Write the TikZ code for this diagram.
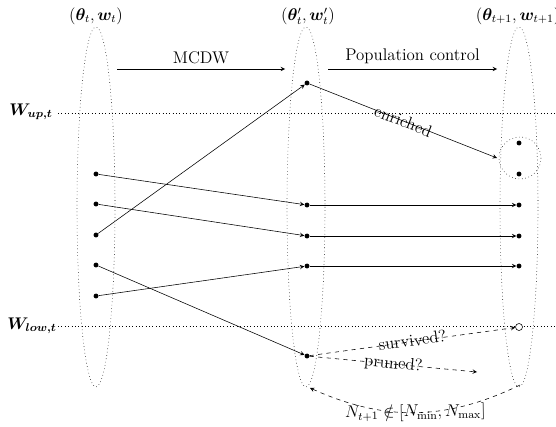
\documentclass[tikz,border=0pt]{standalone}
\usepackage{amsmath}
\usepackage{amssymb}
\usepackage{bm}
\begin{document}
\begin{tikzpicture}[x=0.025cm,y=-0.025cm,
	dot/.style={circle,fill=black,inner sep=0pt,minimum size=3.5pt},
	hollow/.style={circle,draw,fill=white,inner sep=0pt,minimum size=5pt},
	lbl/.style={font=\large},
	link/.style={->,>=stealth},
	dlink/.style={->,>=stealth,dashed}]
\useasboundingbox (0,0) rectangle (556,426);
%populations
\draw[dotted] (96,207) ellipse [x radius=19, y radius=180];
\draw[dotted] (306,207) ellipse [x radius=19, y radius=180];
\draw[dotted] (519,207) ellipse [x radius=19, y radius=180];
\node[lbl] (popl) at (96,16) {$(\bm{\theta}_t,\bm{w}_t)$};
\node[lbl] (popm) at (308,16) {$(\bm{\theta}'_t,\bm{w}'_t)$};
\node[lbl,anchor=west] (popr) at (471,16) {$(\bm{\theta}_{t+1},\bm{w}_{t+1})$};
%thresholds
\draw[dotted] (58,113) -- (556,113);
\draw[dotted] (58,326) -- (556,326);
\node[lbl] (wup) at (31,112) {$\bm{W_{up,t}}$};
\node[lbl] (wlow) at (32,326) {$\bm{W_{low,t}}$};
%steps
\coordinate (s1) at (117,69);
\coordinate (s2) at (285,69);
\coordinate (s3) at (328,69);
\coordinate (s4) at (497,69);
\draw[link] (s1) -- node[lbl,above] {MCDW} (s2);
\draw[link] (s3) -- node[lbl,above] {Population control} (s4);
%particles
\foreach \i/\y in {1/174,2/204,3/235,4/265,5/296}
	\node[dot] (l\i) at (96,\y) {};
\foreach \i/\y in {0/83,1/205,2/236,3/266,4/356}
	\node[dot] (m\i) at (307,\y) {};
\foreach \i/\y in {0/143,1/174,2/205,3/236,4/266}
	\node[dot] (r\i) at (519,\y) {};
\node[hollow] (rlow) at (519,327) {};
\draw[dotted] (520,158) circle [radius=21];
\coordinate (e) at (497,158);
\coordinate (pr) at (477,372);
\coordinate (b1) at (520,385);
\coordinate (b2) at (310,388);
%moves
\draw[link] (l1) -- (m1);
\draw[link] (l2) -- (m2);
\draw[link] (l3) -- (m0);
\draw[link] (l4) -- (m4);
\draw[link] (l5) -- (m3);
\draw[link] (m0) -- node[lbl,sloped] {enriched} (e);
\draw[link] (m1) -- (r2);
\draw[link] (m2) -- (r3);
\draw[link] (m3) -- (r4);
\draw[dlink] (m4) -- node[lbl,sloped,above=-7pt,pos=0.5] {survived?} (rlow);
\draw[dlink] (m4) -- node[lbl,sloped] {pruned?} (pr);
\draw[dlink] (b1) to[bend left=25] node[lbl,sloped] {$N_{t+1}\notin[N_{\min},N_{\max}]$} (b2);
\end{tikzpicture}
\end{document}
